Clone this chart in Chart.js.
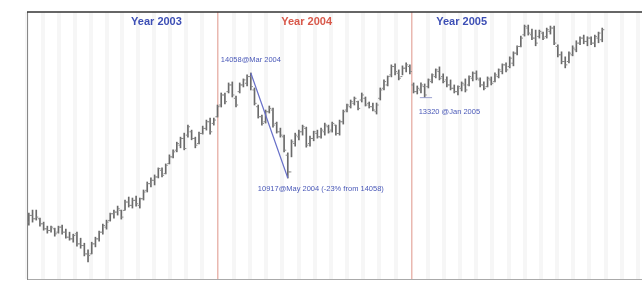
<!DOCTYPE html>
<html>
<head>
<meta charset="utf-8">
<script src="https://cdn.jsdelivr.net/npm/chart.js@4.4.1/dist/chart.umd.min.js"></script>
<style>
html, body { margin: 0; padding: 0; background: #fff; }
#wrap { width: 642px; height: 284px; }
</style>
</head>
<body>
<div id="wrap"><canvas id="priceChart"></canvas></div>
<script>
// weekly bars, 2003 - 2005
const yearLabels = ['Year 2003', 'Year 2004', 'Year 2005'];
const yearStarts = [0, 51.6, 104, 156.4];   // in weeks

const highs = [
  9870, 9960, 9960, 9720, 9600, 9480, 9480, 9420, 9480, 9510,
  9390, 9300, 9240, 9300, 9120, 8970, 8770, 9000, 9150, 9330,
  9540, 9660, 9870, 9960, 10080, 9960, 10260, 10350, 10320, 10380,
  10320, 10560, 10800, 10920, 11010, 11220, 11220, 11340, 11610, 11760,
  11990, 12140, 12260, 12500, 12350, 12140, 12290, 12470, 12650, 12710,
  12710, 13100, 13460, 13460, 13760, 13790, 13370, 13760, 13880, 14000,
  14058, 13610, 13100, 12800, 12950, 13070, 13010, 12590, 12410, 12200,
  11670, 12060, 12260, 12350, 12500, 12440, 12170, 12320, 12350, 12410,
  12560, 12500, 12590, 12500, 12650, 12950, 13130, 13250, 13340, 13220,
  13460, 13340, 13190, 13160, 13160, 13610, 13850, 13970, 14300, 14330,
  14150, 14270, 14360, 14300, 13760, 13670, 13760, 13730, 13880, 14030,
  14180, 14240, 14030, 13940, 13850, 13700, 13670, 13790, 13880, 13970,
  14090, 14120, 13910, 13790, 13940, 13940, 14060, 14180, 14330, 14360,
  14540, 14690, 14870, 15160, 15490, 15490, 15370, 15340, 15340, 15280,
  15400, 15460, 15460, 14900, 14690, 14540, 14690, 14870, 15020, 15140,
  15190, 15140, 15140, 15190, 15280, 15400
];
const lows = [
  9510, 9600, 9660, 9480, 9360, 9270, 9300, 9180, 9270, 9240,
  9120, 9060, 9000, 8880, 8820, 8590, 8410, 8650, 8860, 9030,
  9240, 9390, 9630, 9720, 9810, 9690, 9960, 10050, 10020, 10080,
  10020, 10260, 10500, 10650, 10710, 10920, 10950, 11040, 11340, 11520,
  11700, 11820, 11760, 12140, 12060, 11820, 11940, 12230, 12350, 12230,
  12500, 12740, 13040, 13130, 13460, 13340, 13040, 13460, 13640, 13670,
  13550, 13100, 12710, 12500, 12560, 12860, 12440, 12260, 12140, 11700,
  10917, 11550, 11870, 12060, 12200, 11840, 11870, 12030, 12110, 12110,
  12200, 12260, 12290, 12200, 12200, 12530, 12890, 13010, 13100, 12950,
  13190, 13070, 13010, 12920, 12830, 13250, 13550, 13670, 13940, 14000,
  13850, 14000, 14090, 14030, 13460, 13430, 13460, 13320, 13610, 13760,
  13910, 13850, 13760, 13640, 13550, 13460, 13400, 13520, 13490, 13670,
  13820, 13850, 13640, 13550, 13640, 13700, 13790, 13910, 14030, 14090,
  14210, 14270, 14600, 14840, 15160, 15190, 15050, 14870, 15100, 15050,
  15100, 15220, 14900, 14540, 14330, 14210, 14360, 14570, 14690, 14900,
  14930, 14870, 14900, 14840, 14960, 14990
];
const opens = [
  9600, 9800, 9700, 9700, 9550, 9400, 9350, 9400, 9300, 9450,
  9300, 9150, 9100, 9250, 8950, 8900, 8650, 8650, 8950, 9100,
  9300, 9450, 9650, 9850, 9900, 9950, 9950, 10200, 10100, 10250,
  10100, 10300, 10550, 10750, 10850, 10950, 11150, 11050, 11350, 11550,
  11750, 11900, 12100, 12200, 12300, 12100, 11950, 12250, 12400, 12600,
  12550, 12750, 13100, 13400, 13500, 13700, 13300, 13500, 13700, 13750,
  13950, 13550, 13050, 12750, 12600, 12900, 12950, 12550, 12300, 12150,
  11600, 11100, 11950, 12150, 12300, 12400, 11950, 12100, 12250, 12150,
  12300, 12450, 12350, 12500, 12250, 12600, 12950, 13050, 13150, 13200,
  13250, 13300, 13150, 13050, 12900, 13300, 13600, 13700, 14000, 14250,
  14050, 13950, 14200, 14250, 13700, 13500, 13550, 13650, 13650, 13800,
  13950, 14100, 13950, 13850, 13700, 13600, 13500, 13600, 13700, 13700,
  13900, 14050, 13850, 13700, 13650, 13850, 13800, 13950, 14100, 14300,
  14250, 14350, 14650, 14850, 15200, 15400, 15200, 15100, 15150, 15250,
  15150, 15300, 15400, 14850, 14600, 14400, 14400, 14600, 14750, 14950,
  15100, 15000, 15100, 14950, 15100, 15050
];
const closes = [
  9800, 9700, 9750, 9550, 9400, 9350, 9450, 9250, 9450, 9300,
  9150, 9100, 9200, 8950, 8900, 8650, 8600, 8950, 9100, 9300,
  9500, 9600, 9850, 9900, 10000, 9750, 10200, 10100, 10250, 10150,
  10300, 10500, 10750, 10850, 10950, 11200, 11000, 11300, 11550, 11700,
  11950, 12100, 11800, 12450, 12100, 11900, 12250, 12400, 12600, 12300,
  12650, 13050, 13400, 13200, 13700, 13400, 13100, 13700, 13850, 13950,
  13650, 13150, 12750, 12550, 12900, 13000, 12500, 12300, 12200, 11750,
  11100, 12000, 12200, 12300, 12450, 11900, 12100, 12300, 12150, 12350,
  12500, 12300, 12550, 12250, 12600, 12900, 13100, 13200, 13300, 13000,
  13400, 13100, 13050, 12950, 13100, 13550, 13800, 13950, 14250, 14100,
  13900, 14200, 14300, 14100, 13500, 13600, 13700, 13400, 13850, 14000,
  14150, 13900, 13800, 13700, 13600, 13500, 13650, 13750, 13550, 13950,
  14050, 13900, 13700, 13600, 13900, 13750, 14000, 14150, 14300, 14150,
  14500, 14650, 14850, 15100, 15450, 15250, 15100, 14950, 15300, 15100,
  15350, 15400, 14950, 14600, 14400, 14300, 14650, 14800, 14950, 15100,
  15000, 15100, 14950, 15150, 15250, 15350
];

// highlighted swing: peak (Mar 2004) to trough (May 2004)
const swingIndex = [60, 70];
const swingValue = [14058, 10917];
const notes = [
  { text: '14058@Mar 2004', index: 60, value: 14058 },
  { text: '10917@May 2004 (-23% from 14058)', index: 70, value: 10917 },
  { text: '13320 @Jan 2005', index: 107, value: 13320 }
];

const YEAR_COLORS = ['#3d4fb5', '#d8584a', '#3d4fb5'];
const NOTE_COLOR = '#4a59b8';
const BAR_COLOR = '#6a6a6a';

function weekX(i) {
    return i + 0.5;
}

function buildMonthTicks() {
    const ticks = [];
    for (let y = 0; y < yearStarts.length - 1; y++) {
        const len = yearStarts[y + 1] - yearStarts[y];
        for (let m = 0; m < 12; m++) {
            ticks.push(yearStarts[y] + m * len / 12);
        }
    }
    const last = yearStarts[yearStarts.length - 1];
    for (let m = 0; m < 4; m++) {
        ticks.push(last + m * 52.4 / 12);
    }
    return ticks;
}
const monthTicks = buildMonthTicks();

function isYearEdge(v) {
    return Math.abs(v - yearStarts[1]) < 0.01 || Math.abs(v - yearStarts[2]) < 0.01;
}

const decorPlugin = {
    id: 'decor',
    afterDatasetsDraw(chart) {
        const { ctx, chartArea, scales } = chart;
        const x = scales.x, y = scales.y;
        ctx.save();

        // frame: top line and the bottom line carried to the edge
        ctx.strokeStyle = '#333';
        ctx.lineWidth = 1.5;
        ctx.beginPath();
        ctx.moveTo(chartArea.left, chartArea.top);
        ctx.lineTo(chart.width, chartArea.top);
        ctx.stroke();
        ctx.strokeStyle = '#aaa';
        ctx.lineWidth = 1;
        ctx.beginPath();
        ctx.moveTo(chartArea.right, chartArea.bottom + 0.5);
        ctx.lineTo(chart.width, chartArea.bottom + 0.5);
        ctx.stroke();

        // year titles
        ctx.font = 'bold 11px "Liberation Sans", Arial, sans-serif';
        ctx.textAlign = 'center';
        ctx.textBaseline = 'middle';
        const titleAt = [35.0, 75.6, 117.5];
        yearLabels.forEach((label, k) => {
            ctx.fillStyle = YEAR_COLORS[k];
            ctx.fillText(label, x.getPixelForValue(titleAt[k]), chartArea.top + 10);
        });

        // notes
        const offsets = [[-30, -13], [-30, 11], [-6, 14]];
        ctx.font = '7.5px "Liberation Sans", Arial, sans-serif';
        ctx.textAlign = 'left';
        ctx.fillStyle = NOTE_COLOR;
        notes.forEach((n, k) => {
            const px = x.getPixelForValue(weekX(n.index)) + offsets[k][0];
            const py = y.getPixelForValue(n.value) + offsets[k][1];
            ctx.fillText(n.text, px, py);
        });
        ctx.restore();
    }
};

function initializeChart() {
    const ctx = document.getElementById('priceChart').getContext('2d');
    new Chart(ctx, {
        type: 'bar',
        data: {
            datasets: [
                {
                    type: 'line',
                    data: swingIndex.map((idx, k) => ({ x: weekX(idx), y: swingValue[k] })),
                    borderColor: '#6870c8',
                    borderWidth: 1.2,
                    pointRadius: 0,
                    order: 0
                },
                {
                    type: 'line',
                    data: [{ x: weekX(106) - 0.3, y: 13320 }, { x: weekX(109), y: 13320 }],
                    borderColor: '#9aa0d0',
                    borderWidth: 1,
                    pointRadius: 0,
                    order: 0
                },
                {
                    type: 'bar',
                    data: highs.map((h, i) => ({ x: weekX(i), y: [lows[i], h] })),
                    backgroundColor: BAR_COLOR,
                    barThickness: 1,
                    order: 2
                },
                {
                    type: 'line',
                    showLine: false,
                    data: opens.map((v, i) => ({ x: weekX(i) - 0.3, y: v })),
                    pointStyle: 'line',
                    pointRadius: 1,
                    pointBorderWidth: 1,
                    pointBorderColor: '#8a8a8a',
                    order: 1
                },
                {
                    type: 'line',
                    showLine: false,
                    data: closes.map((v, i) => ({ x: weekX(i) + 0.3, y: v })),
                    pointStyle: 'line',
                    pointRadius: 1,
                    pointBorderWidth: 1,
                    pointBorderColor: '#8a8a8a',
                    order: 1
                }
            ]
        },
        options: {
            responsive: true,
            maintainAspectRatio: false,
            animation: false,
            layout: { padding: { left: 27, top: 12, right: 0, bottom: 0 } },
            plugins: {
                legend: { display: false },
                tooltip: { enabled: false }
            },
            scales: {
                x: {
                    type: 'linear',
                    offset: false,
                    min: 0,
                    max: 164.9,
                    afterBuildTicks: function(scale) {
                        scale.ticks = monthTicks.map(v => ({ value: v }));
                    },
                    ticks: { display: false },
                    grid: {
                        offset: false,
                        drawTicks: false,
                        color: function(c) {
                            return c.tick && isYearEdge(c.tick.value) ? '#e9b8b0' : '#f6f6f6';
                        },
                        lineWidth: function(c) {
                            return c.tick && isYearEdge(c.tick.value) ? 1.5 : 4;
                        }
                    },
                    border: { display: true, color: '#aaa', width: 1 }
                },
                y: {
                    min: 7900,
                    max: 15880,
                    ticks: { display: false },
                    grid: { display: false, drawTicks: false },
                    border: { display: true, color: '#888', width: 1 }
                }
            }
        },
        plugins: [decorPlugin]
    });
}

initializeChart();
</script>
</body>
</html>
